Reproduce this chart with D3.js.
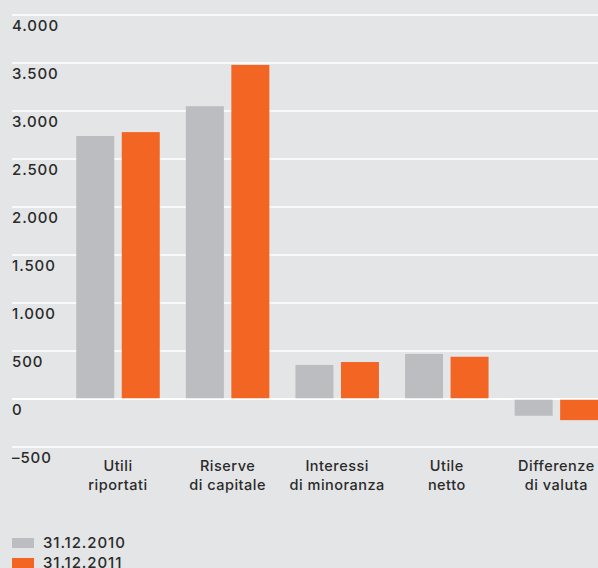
<!DOCTYPE html>
<html>
<head>
<meta charset="utf-8">
<script src="https://cdn.jsdelivr.net/npm/d3@7"></script>
<style>
  html, body { margin: 0; padding: 0; background: #e4e5e6; }
  svg { display: block; }
  text { font-family: Inter, "Liberation Sans", sans-serif; fill: #2a2a2a; font-weight: 500; }
</style>
</head>
<body>
<svg id="chart" width="598" height="568"></svg>
<script>
// Patrimonio netto: componenti per categoria
const categories = [
  ["Utili", "riportati"],
  ["Riserve", "di capitale"],
  ["Interessi", "di minoranza"],
  ["Utile", "netto"],
  ["Differenze", "di valuta"]
];
const series2010 = [2740, 3050, 355, 470, -175];
const series2011 = [2780, 3480, 385, 440, -220];
const seriesNames = ["31.12.2010", "31.12.2011"];
const seriesColors = ["#bcbdc0", "#f26522"];
const yTicks = [-500, 0, 500, 1000, 1500, 2000, 2500, 3000, 3500, 4000];

const svg = d3.select("#chart");
const W = 598;

const y = d3.scaleLinear().domain([-500, 4000]).range([447, 15]);
const x = d3.scaleBand()
  .domain(d3.range(categories.length))
  .range([63.2, 611.2])
  .padding(0);
// Two bars per category, 38px wide with a narrow gap, centred in each band
const groupW = 83.5;
const xs = d3.scaleBand().domain([0, 1])
  .range([(x.bandwidth() - groupW) / 2, (x.bandwidth() + groupW) / 2])
  .paddingInner(0.165);

const fmt = v => v < 0 ? "\u2013" + d3.format(",")(-v).replace(/,/g, ".") : d3.format(",")(v).replace(/,/g, ".");

// Gridlines and tick labels
const grid = svg.append("g");
grid.selectAll("line").data(yTicks).join("line")
  .attr("x1", 12).attr("x2", W)
  .attr("y1", d => y(d)).attr("y2", d => y(d))
  .attr("stroke", "#ffffff").attr("stroke-width", 1.5);
grid.selectAll("text").data(yTicks).join("text")
  .attr("x", 12).attr("y", d => y(d) + 16)
  .attr("font-size", 15)
  .attr("letter-spacing", 0.9)
  .text(fmt);

// Bars
const all = [series2010, series2011];
all.forEach((vals, si) => {
  svg.append("g").selectAll("rect").data(vals).join("rect")
    .attr("x", (d, i) => x(i) + xs(si))
    .attr("width", xs.bandwidth())
    .attr("y", d => y(Math.max(0, d)))
    .attr("height", d => Math.abs(y(d) - y(0)))
    .attr("fill", seriesColors[si]);
});

// Redraw the zero line above the bars
svg.append("line")
  .attr("x1", 12).attr("x2", W)
  .attr("y1", y(0)).attr("y2", y(0))
  .attr("stroke", "#ffffff").attr("stroke-width", 1.5);

// Category labels
const cx = i => x(i) + x.bandwidth() / 2;
const cl = svg.append("g").selectAll("text").data(categories).join("text")
  .attr("text-anchor", "middle")
  .attr("font-size", 14.5)
  .attr("letter-spacing", 0.5);
cl.append("tspan").attr("x", (d, i) => cx(i)).attr("y", 471).text(d => d[0]);
cl.append("tspan").attr("x", (d, i) => cx(i)).attr("y", 490).text(d => d[1]);

// Legend
const lg = svg.append("g").selectAll("g").data(seriesNames).join("g")
  .attr("transform", (d, i) => `translate(12, ${538 + i * 20})`);
lg.append("rect").attr("width", 22).attr("height", 10).attr("fill", (d, i) => seriesColors[i]);
lg.append("text").attr("x", 31).attr("y", 10).attr("font-size", 15)
  .attr("letter-spacing", 0.9).text(d => d);
</script>
</body>
</html>
